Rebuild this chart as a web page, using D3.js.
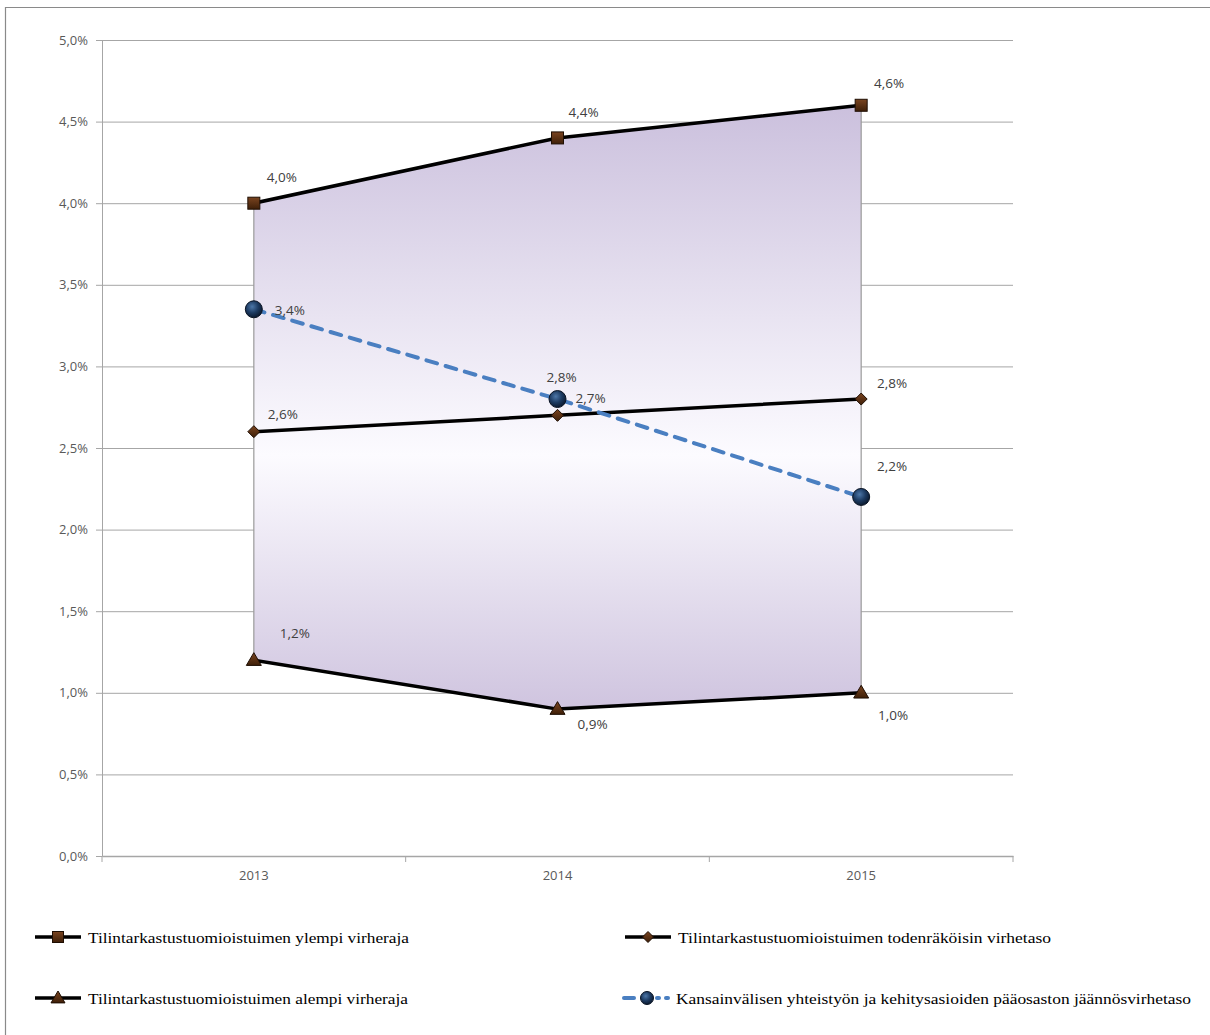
<!DOCTYPE html>
<html>
<head>
<meta charset="utf-8">
<script src="https://cdn.jsdelivr.net/npm/d3@7"></script>
<style>
  html, body { margin: 0; padding: 0; background: #fff; }
  svg { display: block; }
</style>
</head>
<body>
<svg id="chart" width="1210" height="1035"></svg>
<script>
// Years on the category axis
const years = ["2013", "2014", "2015"];
// Audit estimates (%)
const upperLimit = [4.0, 4.4, 4.6];
const mostLikely = [2.6, 2.7, 2.8];
const lowerLimit = [1.2, 0.9, 1.0];
// Directorate-General residual error rate (%)
const residual = [3.35, 2.8, 2.2];
// Value axis ticks
const yTicks = [0, 0.5, 1.0, 1.5, 2.0, 2.5, 3.0, 3.5, 4.0, 4.5, 5.0];
// Legend texts
const legendNames = [
  "Tilintarkastustuomioistuimen ylempi virheraja",
  "Tilintarkastustuomioistuimen todenräköisin virhetaso",
  "Tilintarkastustuomioistuimen alempi virheraja",
  "Kansainvälisen yhteistyön ja kehitysasioiden pääosaston jäännösvirhetaso"
];

const svg = d3.select("#chart");
const fmt = v => d3.format(".1f")(v).replace(".", ",") + "%";

const plot = { left: 102, right: 1013, top: 40, bottom: 856 };

const x = d3.scaleBand().domain(years).range([plot.left, plot.right]).padding(0);
const cx = d => x(d) + x.bandwidth() / 2;
const y = d3.scaleLinear().domain([0, 5]).range([plot.bottom, plot.top]);

// outer frame (top and left edges visible)
svg.append("path")
  .attr("d", `M5.5,1035 L5.5,7.5 L1210,7.5`)
  .attr("fill", "none").attr("stroke", "#8a8a8a").attr("stroke-width", 1.2);

const defs = svg.append("defs");
const grad = defs.append("linearGradient").attr("id", "bandFill")
  .attr("x1", 0).attr("y1", 0).attr("x2", 0).attr("y2", 1);
grad.append("stop").attr("offset", "0%").attr("stop-color", "#cbc0dd");
grad.append("stop").attr("offset", "58%").attr("stop-color", "#fcfbff");
grad.append("stop").attr("offset", "100%").attr("stop-color", "#cfc4df");

const rg = defs.append("radialGradient").attr("id", "ballFill")
  .attr("cx", "40%").attr("cy", "35%").attr("r", "65%");
rg.append("stop").attr("offset", "0%").attr("stop-color", "#4d77a8");
rg.append("stop").attr("offset", "55%").attr("stop-color", "#1d3b62");
rg.append("stop").attr("offset", "100%").attr("stop-color", "#0b1a30");

const bg = defs.append("linearGradient").attr("id", "brownFill")
  .attr("x1", 0).attr("y1", 0).attr("x2", 0).attr("y2", 1);
bg.append("stop").attr("offset", "0%").attr("stop-color", "#7a4420");
bg.append("stop").attr("offset", "100%").attr("stop-color", "#3e1f08");

const textFont = "'Open Sans', sans-serif";

// value axis with gridlines
const yAxis = d3.axisLeft(y).tickValues(yTicks).tickFormat(fmt).tickSize(6).tickPadding(8);
const gy = svg.append("g").attr("transform", `translate(${plot.left},0)`).call(yAxis);
gy.select(".domain").attr("stroke", "#a6a6a6");
gy.selectAll(".tick line").attr("stroke", "#a6a6a6");
gy.selectAll(".tick text").attr("fill", "#595959")
  .style("font-family", textFont).style("font-size", "13px");

svg.append("g").selectAll("line").data(yTicks.filter(t => t > 0)).join("line")
  .attr("x1", plot.left).attr("x2", plot.right)
  .attr("y1", d => y(d) + 0.5).attr("y2", d => y(d) + 0.5)
  .attr("stroke", "#a6a6a6").attr("stroke-width", 1);

// category axis
const xAxis = d3.axisBottom(x).tickSize(0).tickPadding(15);
const gx = svg.append("g").attr("transform", `translate(0,${plot.bottom})`).call(xAxis);
gx.select(".domain").attr("stroke", "#a6a6a6").attr("stroke-width", 1.5);
gx.selectAll(".tick text").attr("fill", "#595959")
  .style("font-family", textFont).style("font-size", "13px");
const boundaries = [plot.left, ...years.slice(1).map(d => x(d)), plot.right];
gx.append("g").selectAll("line").data(boundaries).join("line")
  .attr("x1", d => d).attr("x2", d => d).attr("y1", 0).attr("y2", 6)
  .attr("stroke", "#a6a6a6");

// shaded band between the lower and upper limits
const bandData = years.map((yr, i) => ({ yr, lo: lowerLimit[i], hi: upperLimit[i] }));
svg.append("path").datum(bandData)
  .attr("d", d3.area().x(d => cx(d.yr)).y0(d => y(d.lo)).y1(d => y(d.hi)))
  .attr("fill", "url(#bandFill)");
// band side edges
svg.append("g").selectAll("line").data([bandData[0], bandData[bandData.length - 1]]).join("line")
  .attr("x1", d => cx(d.yr)).attr("x2", d => cx(d.yr))
  .attr("y1", d => y(d.hi)).attr("y2", d => y(d.lo))
  .attr("stroke", "#9a9a9a").attr("stroke-width", 1.2);

const line = d3.line().x((d, i) => cx(years[i])).y(d => y(d));

// black series lines
[upperLimit, mostLikely, lowerLimit].forEach(s => {
  svg.append("path").datum(s).attr("d", line)
    .attr("fill", "none").attr("stroke", "#000").attr("stroke-width", 3.5)
    .attr("stroke-linejoin", "round");
});

// dashed residual line
svg.append("path").datum(residual).attr("d", line)
  .attr("fill", "none").attr("stroke", "#4a7fc1").attr("stroke-width", 4)
  .attr("stroke-dasharray", "11,9").attr("stroke-linecap", "round");

// marker helpers
function square(g, px, py, s) {
  g.append("rect").attr("x", px - s / 2).attr("y", py - s / 2).attr("width", s).attr("height", s)
    .attr("fill", "url(#brownFill)").attr("stroke", "#1e0e03").attr("stroke-width", 1);
}
function diamond(g, px, py, s) {
  g.append("path").attr("d", `M${px},${py - s} L${px + s},${py} L${px},${py + s} L${px - s},${py} Z`)
    .attr("fill", "url(#brownFill)").attr("stroke", "#1e0e03").attr("stroke-width", 1);
}
function triangle(g, px, py, s) {
  g.append("path").attr("d", `M${px},${py - s} L${px + s},${py + s * 0.7} L${px - s},${py + s * 0.7} Z`)
    .attr("fill", "url(#brownFill)").attr("stroke", "#1e0e03").attr("stroke-width", 1);
}
function ball(g, px, py, r) {
  g.append("circle").attr("cx", px).attr("cy", py).attr("r", r)
    .attr("fill", "url(#ballFill)").attr("stroke", "#0a1424").attr("stroke-width", 1);
}

const markers = svg.append("g");
years.forEach((yr, i) => {
  square(markers, cx(yr), y(upperLimit[i]), 12);
  diamond(markers, cx(yr), y(mostLikely[i]), 6);
  triangle(markers, cx(yr), y(lowerLimit[i]), 7.5);
  ball(markers, cx(yr), y(residual[i]), 8.5);
});

// data labels: offsets relative to each point
const labelStyle = sel => sel.attr("fill", "#404040")
  .style("font-family", textFont).style("font-size", "13.5px")
  .attr("text-anchor", "middle").attr("dominant-baseline", "central");
const labels = svg.append("g");
const labelSets = [
  { s: upperLimit, off: [[28, -26], [26, -26], [28, -22]] },
  { s: mostLikely, off: [[29, -18], [33, -17], [31, -16]] },
  { s: lowerLimit, off: [[41, -27], [35, 15], [32, 22]] },
  { s: residual, off: [[36, 1], [4, -22], [31, -31]] }
];
labelSets.forEach(set => {
  set.s.forEach((v, i) => {
    labels.append("text")
      .attr("x", cx(years[i]) + set.off[i][0])
      .attr("y", y(v) + set.off[i][1])
      .text(fmt(v)).call(labelStyle);
  });
});

// legend
const legendPos = [
  { lx: 35, tx: 88, ty: 937, w: 321 },
  { lx: 625, tx: 678, ty: 937, w: 373 },
  { lx: 35, tx: 88, ty: 998, w: 320 },
  { lx: 622, tx: 676, ty: 998, w: 515 }
];
const legend = svg.append("g");
legendNames.forEach((name, i) => {
  const p = legendPos[i];
  const mid = p.lx + 23;
  if (i < 3) {
    legend.append("line").attr("x1", p.lx).attr("x2", p.lx + 46)
      .attr("y1", p.ty).attr("y2", p.ty).attr("stroke", "#000").attr("stroke-width", 3.5);
    if (i === 0) square(legend, mid, p.ty, 11);
    if (i === 1) diamond(legend, mid, p.ty, 5.5);
    if (i === 2) triangle(legend, mid, p.ty, 7);
  } else {
    legend.append("line").attr("x1", p.lx + 2).attr("x2", p.lx + 12)
      .attr("y1", p.ty).attr("y2", p.ty).attr("stroke", "#4a7fc1").attr("stroke-width", 4)
      .attr("stroke-linecap", "round");
    legend.append("line").attr("x1", p.lx + 35).attr("x2", p.lx + 37)
      .attr("y1", p.ty).attr("y2", p.ty).attr("stroke", "#4a7fc1").attr("stroke-width", 4)
      .attr("stroke-linecap", "round");
    legend.append("line").attr("x1", p.lx + 44).attr("x2", p.lx + 46)
      .attr("y1", p.ty).attr("y2", p.ty).attr("stroke", "#4a7fc1").attr("stroke-width", 4)
      .attr("stroke-linecap", "round");
    ball(legend, p.lx + 25, p.ty, 6.5);
  }
  legend.append("text").attr("x", p.tx).attr("y", p.ty)
    .attr("dominant-baseline", "central")
    .attr("textLength", p.w).attr("lengthAdjust", "spacingAndGlyphs")
    .attr("fill", "#000")
    .style("font-family", "'Liberation Serif', serif").style("font-size", "15.5px")
    .text(name);
});
</script>
</body>
</html>
